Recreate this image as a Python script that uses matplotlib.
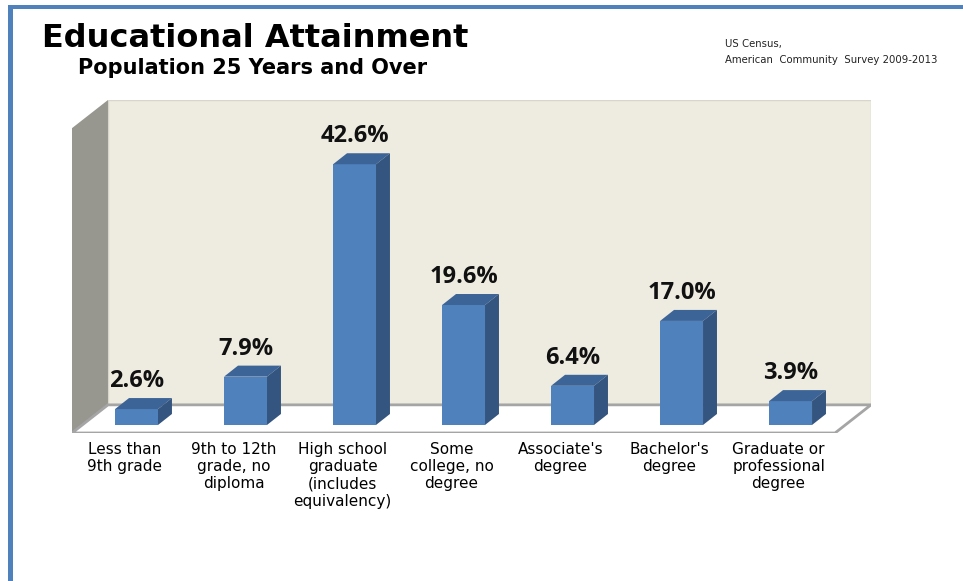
import matplotlib.pyplot as plt
from matplotlib.patches import Polygon, Rectangle

# Census education shares, population 25 years and over
categories = [
    "Less than\n9th grade",
    "9th to 12th\ngrade, no\ndiploma",
    "High school\ngraduate\n(includes\nequivalency)",
    "Some\ncollege, no\ndegree",
    "Associate's\ndegree",
    "Bachelor's\ndegree",
    "Graduate or\nprofessional\ndegree",
]
shares = [2.6, 7.9, 42.6, 19.6, 6.4, 17.0, 3.9]
value_labels = ["2.6%", "7.9%", "42.6%", "19.6%", "6.4%", "17.0%", "3.9%"]

# 3D box geometry (data units: x = category index, y = percent)
XMIN, XMAX = -0.592, 6.408     # floor front edge
FLOOR = -1.31
WALL_TOP = 48.5
DX, DY = 0.33, 4.6             # wall depth offset
BAR_W = 0.394
BDX, BDY = 0.128, 1.8          # bar depth offset

FRONT = "#4F81BD"
TOP = "#3D6497"
SIDE = "#34557F"

fig = plt.figure(figsize=(9.63, 5.81), dpi=100)
fig.patch.set_facecolor("white")

# slide frame
fig.patches.append(Rectangle((8 / 963, 0), 5 / 963, 576 / 581, transform=fig.transFigure,
                             facecolor="#4F81BD", edgecolor="none"))
fig.patches.append(Rectangle((8 / 963, 572 / 581), 955 / 963, 4 / 581, transform=fig.transFigure,
                             facecolor="#4F81BD", edgecolor="none"))

ax = fig.add_axes([72 / 963, (581 - 433) / 581, 799 / 963, 333 / 581])
ax.set_xlim(XMIN, XMAX + DX)
ax.set_ylim(FLOOR, WALL_TOP + DY)
ax.axis("off")

# back wall
back = Polygon([(XMIN + DX, FLOOR + DY), (XMAX + DX, FLOOR + DY),
                (XMAX + DX, WALL_TOP + DY), (XMIN + DX, WALL_TOP + DY)],
               closed=True, facecolor="#EEECE1", edgecolor="#D8D6CC", lw=1, zorder=1)
ax.add_patch(back)

# left wall
left = Polygon([(XMIN, FLOOR), (XMIN + DX, FLOOR + DY),
                (XMIN + DX, WALL_TOP + DY), (XMIN, WALL_TOP)],
               closed=True, facecolor="#97978F", edgecolor="none", zorder=1)
ax.add_patch(left)

# floor
floor = Polygon([(XMIN, FLOOR), (XMAX, FLOOR), (XMAX + DX, FLOOR + DY), (XMIN + DX, FLOOR + DY)],
                closed=True, facecolor="white", edgecolor="#A5A5A5", lw=2.0, zorder=2)
ax.add_patch(floor)

for i, (v, lab, cat) in enumerate(zip(shares, value_labels, categories)):
    x0 = i - BAR_W / 2
    ax.add_patch(Rectangle((x0, 0), BAR_W, v, facecolor=FRONT, edgecolor="none", zorder=3))
    ax.add_patch(Polygon([(x0, v), (x0 + BAR_W, v), (x0 + BAR_W + BDX, v + BDY), (x0 + BDX, v + BDY)],
                         closed=True, facecolor=TOP, edgecolor="none", zorder=3))
    ax.add_patch(Polygon([(x0 + BAR_W, 0), (x0 + BAR_W + BDX, BDY), (x0 + BAR_W + BDX, v + BDY), (x0 + BAR_W, v)],
                         closed=True, facecolor=SIDE, edgecolor="none", zorder=3))
    ax.text(i, v + BDY + 0.8, lab, ha="center", va="bottom", fontsize=17,
            fontweight="bold", family="Open Sans", color="#111111", zorder=4)
    ax.text(i - 0.11, FLOOR - 1.4, cat, ha="center", va="top", fontsize=11,
            linespacing=1.2, color="black", clip_on=False, zorder=4)

fig.text(42 / 963, 1 - 47 / 581, "Educational Attainment", fontsize=23, fontweight="bold",
         va="baseline", ha="left", color="black")
fig.text(78 / 963, 1 - 74 / 581, "Population 25 Years and Over", fontsize=15, fontweight="bold",
         va="baseline", ha="left", color="black")
fig.text(725 / 963, 1 - 47 / 581, "US Census,", fontsize=7.3, va="baseline", ha="left", color="#222222")
fig.text(725 / 963, 1 - 63 / 581, "American  Community  Survey 2009-2013", fontsize=7.3,
         va="baseline", ha="left", color="#222222")

fig.savefig("out.png", dpi=100)
